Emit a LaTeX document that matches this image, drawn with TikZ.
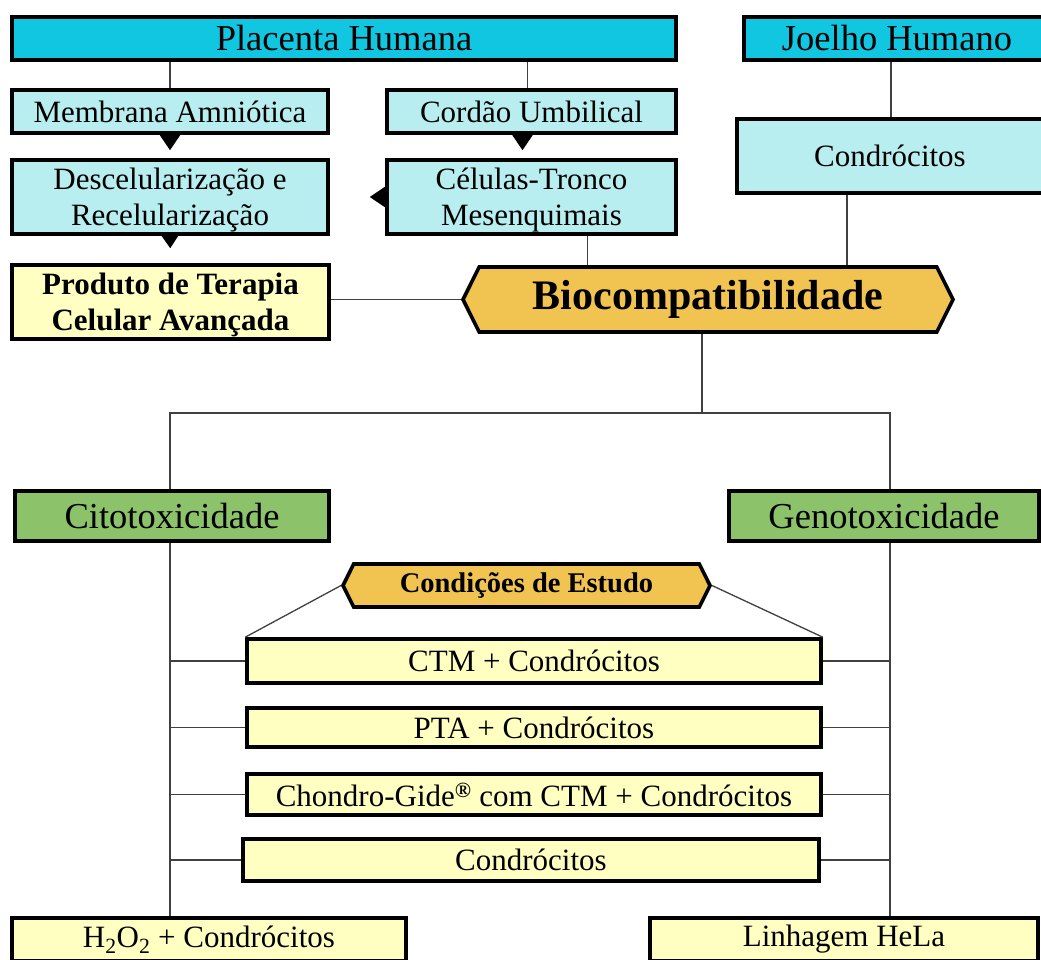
\documentclass[tikz,border=0pt]{standalone}
\usepackage{fontspec}
\setmainfont{Liberation Serif}
\usetikzlibrary{arrows.meta,positioning,shapes.symbols}
\definecolor{azul}{RGB}{16,198,224}
\definecolor{azulclaro}{RGB}{184,238,240}
\definecolor{amarelo}{RGB}{255,255,194}
\definecolor{verde}{RGB}{140,194,106}
\definecolor{laranja}{RGB}{241,196,82}
\tikzset{
    %Define style for boxes
    caixa/.style={
           rectangle,
           draw=black, line width=3.6pt,
           inner sep=0pt,
           align=center,
           font=\fontsize{31}{36}\selectfont},
    topo/.style={caixa, fill=azul, font=\fontsize{36.5}{40}\selectfont},
    fonte/.style={caixa, fill=azulclaro},
    ensaio/.style={caixa, fill=verde, font=\fontsize{36.5}{40}\selectfont},
    resultado/.style={caixa, fill=amarelo},
    duaslinhas/.style={text depth=0pt},
    hexa/.style={
           signal, signal to=west and east,
           signal pointer angle=127,
           draw=black, line width=3.6pt,
           fill=laranja,
           inner sep=0pt,
           font=\bfseries},
    % Define line and arrow styles
    linha/.style={draw=black!75, line width=1.3pt},
    seta/.style={
           -{Triangle[length=15pt,width=20pt]},
           draw=black, line width=1.3pt}
}

\begin{document}
\begin{tikzpicture}[x=1pt,y=-1pt]
\useasboundingbox (0,0) rectangle (1041,959);
\clip (0,0) rectangle (1041,959);
% origins
\node[topo, minimum width=664, minimum height=43] (placenta) at (344,38.5) {Placenta Humana};
\node[topo, minimum width=326, minimum height=43] (joelho) at (907,38.5) {Joelho Humano\hspace*{20pt}};
\node[fonte, minimum width=316, minimum height=43] (membrana) at (170,111.5) {Membrana Amniótica};
\node[fonte, minimum width=289, minimum height=43] (cordao) at (531.5,111.5) {Cordão Umbilical};
\node[fonte, duaslinhas, minimum width=316, minimum height=74] (descel) at (170,197) {Descelularização e\\Recelularização};
\node[fonte, duaslinhas, minimum width=289, minimum height=74] (celulas) at (531.5,197) {Células-Tronco\\Mesenquimais};
\node[fonte, minimum width=326, minimum height=74] (condro) at (900,156) {Condrócitos\hspace*{20pt}};
\node[resultado, duaslinhas, minimum width=317, minimum height=74, font=\fontsize{31}{36}\selectfont\bfseries] (produto) at (170.5,302) {Produto de Terapia\\Celular Avançada};
% center
\node[hexa, minimum width=490, minimum height=65, font=\fontsize{42}{46}\selectfont\bfseries] (bio) at (708,299.5) {Biocompatibilidade};
% tests
\node[ensaio, minimum width=314, minimum height=50] (cito) at (172,516) {Citotoxicidade};
\node[ensaio, minimum width=310, minimum height=50] (geno) at (884,516) {Genotoxicidade};
\node[hexa, minimum width=367, minimum height=43, font=\fontsize{28.5}{32}\selectfont\bfseries] (cond) at (526.5,585.5) {Condições de Estudo};
\node[resultado, minimum width=574, minimum height=44] (ctm) at (534,661) {CTM + Condrócitos};
\node[resultado, minimum width=574, minimum height=39] (pta) at (534,727.5) {PTA + Condrócitos};
\node[resultado, minimum width=574, minimum height=41] (gide) at (534,794.5) {Chondro-Gide\textsuperscript{\textbf{®}} com CTM + Condrócitos};
\node[resultado, minimum width=576, minimum height=42] (cel) at (531,860) {Condrócitos};
\node[resultado, minimum width=394, minimum height=43] (peroxido) at (209,939.5) {H\textsubscript{2}O\textsubscript{2} + Condrócitos};
\node[resultado, minimum width=388, minimum height=43] (hela) at (844,939.5) {Linhagem HeLa};

\coordinate (ramo) at (702,413);
\coordinate (esq) at (170,0);
\coordinate (dir) at (890,0);

% connectors
\draw[linha] (membrana.north) -- (membrana.north |- placenta.south);
\draw[linha] ([xshift=-4pt]cordao.north) -- ([xshift=-4pt]cordao.north |- placenta.south);
\draw[linha] ([xshift=-9pt]condro.north) -- ([xshift=-9pt]condro.north |- joelho.south);
\draw[linha] ([xshift=-53pt]condro.south) -- ([xshift=-53pt]condro.south |- bio.north);
\draw[linha] ([xshift=56pt]celulas.south) -- ([xshift=56pt]celulas.south |- bio.north);
\draw[linha] (bio.west) -- (bio.west -| produto.east);
\draw[linha] (bio.south -| ramo) -- (ramo);
\draw[linha] (cito.north -| esq) |- (ramo) -| (geno.north -| dir);
\draw[linha] (cito.south -| esq) -- (peroxido.north -| esq);
\draw[linha] (geno.south -| dir) -- (hela.north -| dir);
\draw[linha] (cond.west) -- (ctm.north west);
\draw[linha] (cond.east) -- (ctm.north east);
\foreach \n in {ctm,pta,gide,cel}{
  \draw[linha] (\n.west) -- (\n.west -| esq);
  \draw[linha] (\n.east) -- (\n.east -| dir);
}
% arrows
\draw[seta, shorten >=8pt] (membrana.south) -- (descel.north);
\draw[seta, shorten >=8pt] ([xshift=-9pt]cordao.south) -- ([xshift=-9pt]celulas.north);
\draw[seta, shorten >=40pt] (celulas.west) -- (descel.east);
\draw[seta, shorten >=15pt] (descel.south) -- (produto.north);
\end{tikzpicture}
\end{document}
